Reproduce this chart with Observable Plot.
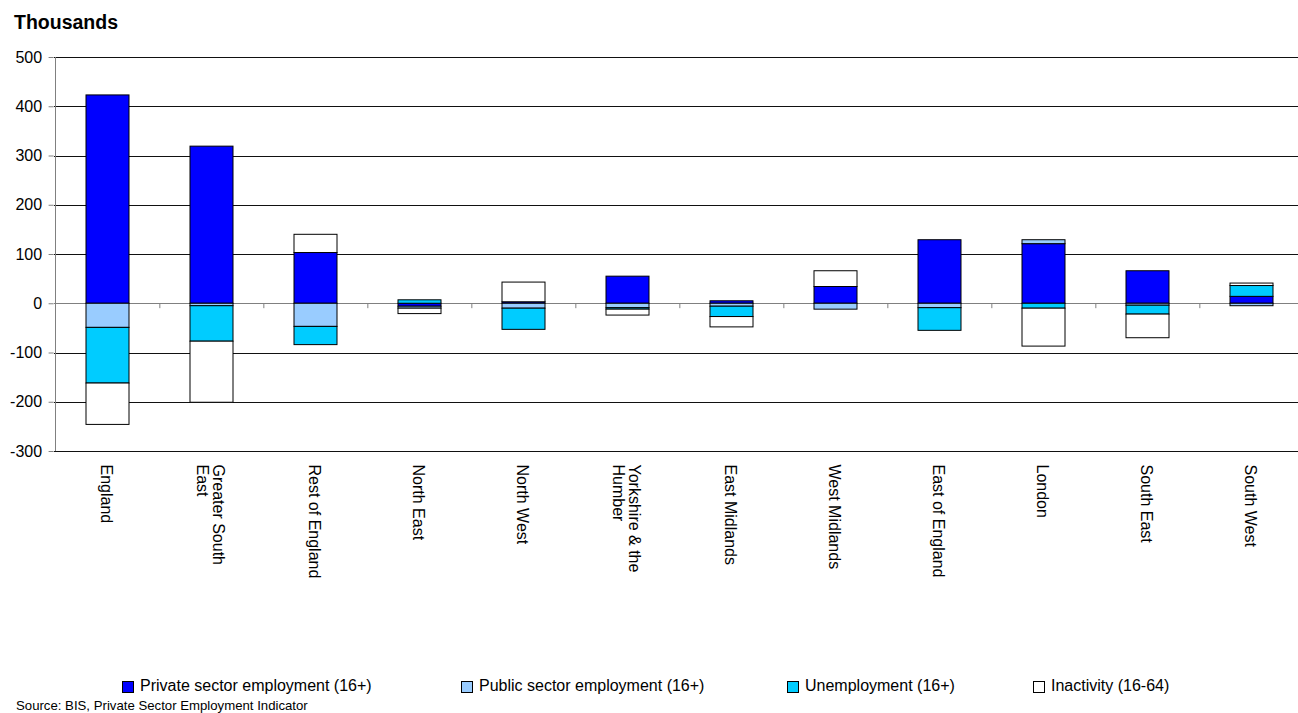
<!DOCTYPE html>
<html>
<head>
<meta charset="utf-8">
<script src="https://cdn.jsdelivr.net/npm/d3@7"></script>
<script src="https://cdn.jsdelivr.net/npm/@observablehq/plot@0.6"></script>
<style>
  html, body { margin: 0; padding: 0; background: #fff; overflow: hidden; width: 1298px; height: 713px; }
  body { position: relative; font-family: "Liberation Sans", Arial, sans-serif; color: #000; }
  #chart { position: absolute; left: 0; top: 0; width: 1310px; }
  #chart svg { max-width: none !important; }
  .title { position: absolute; left: 14px; top: 13px; font-size: 19.5px; line-height: 19px; font-weight: bold; }
  .legend-item { position: absolute; top: 678px; font-size: 16px; line-height: 16px; white-space: nowrap; }
  .swatch { position: absolute; left: 0; top: 3px; width: 10px; height: 10px; border: 1px solid #000; box-sizing: content-box; }
  .legend-item span.lbl { position: absolute; left: 18px; top: 0; }
  .source { position: absolute; left: 16px; top: 699px; font-size: 13.2px; line-height: 13px; white-space: nowrap; }
</style>
</head>
<body>
<div id="chart"></div>
<div class="title">Thousands</div>
<div id="legend"></div>
<div class="source">Source: BIS, Private Sector Employment Indicator</div>
<script>
const regions = ["England", "Greater South\nEast", "Rest of England", "North East", "North West",
  "Yorkshire & the\nHumber", "East Midlands", "West Midlands", "East of England", "London", "South East", "South West"];
const seriesNames = ["Private sector employment (16+)", "Public sector employment (16+)", "Unemployment (16+)", "Inactivity (16-64)"];
const seriesColors = ["#0000FF", "#99CCFF", "#00CCFF", "#FFFFFF"];
const privateSector = [423, 319, 103, -6, 3, 55, 5, 34, 129, 121, 66, 14];
const publicSector = [-49, -5, -47, -4, -10, -9, -6, -12, -9, 8, -4, -5];
const unemployment = [-113, -72, -37, 7, -43, -3, -21, 0, -46, -10, -18, 22];
const inactivity = [-84, -124, 37, -11, 40, -12, -21, 32, 0, -77, -48, 5];
const yTicks = [500, 400, 300, 200, 100, 0, -100, -200, -300];

const seriesValues = [privateSector, publicSector, unemployment, inactivity];
const rows = [];
regions.forEach((r, i) => {
  seriesNames.forEach((s, j) => {
    const v = seriesValues[j][i];
    if (v !== 0) rows.push({region: r, series: s, value: v});
  });
});

const W = 1310, H = 620;
const mL = 53.6, mR = 4.3, mT = 57, mB = H - 451;
const step = (W - mL - mR) / regions.length;

const chart = Plot.plot({
  width: W,
  height: H,
  marginTop: mT,
  marginBottom: mB,
  marginLeft: mL,
  marginRight: mR,
  style: {fontFamily: "'Liberation Sans', Arial, sans-serif", fontSize: "16px", color: "#000", background: "transparent", overflow: "visible", maxWidth: "none"},
  x: {domain: regions, paddingInner: 0.585, paddingOuter: 0.2925, axis: null},
  y: {domain: [-300, 500], axis: null},
  color: {domain: seriesNames, range: seriesColors},
  marks: [
    Plot.ruleY(yTicks.filter(d => d !== 0), {stroke: "#111", shapeRendering: "crispEdges"}),
    Plot.ruleY([0], {stroke: "#808080", shapeRendering: "crispEdges"}),
    Plot.ruleX(regions.slice(1), {x: d => d, y1: 0, y2: -10, dx: -step / 2, stroke: "#808080"}),
    Plot.ruleX([regions[0]], {x: d => d, y1: -300, y2: 500, dx: -step / 2, stroke: "#808080", shapeRendering: "crispEdges"}),
    Plot.barY(rows, {x: "region", y: "value", fill: "series", stroke: "#000", strokeWidth: 1}),
    Plot.axisY({ticks: yTicks, tickSize: 5, tickPadding: 7, tickFormat: d => String(d), stroke: "#808080", fill: "#000", fontSize: 16, label: null}),
    Plot.axisX({tickRotate: 90, tickSize: 0, tickPadding: 13, dx: -2, fontSize: 16, fill: "#000", label: null})
  ]
});
chart.style.maxWidth = "none";
document.getElementById("chart").appendChild(chart);

const legendX = [122, 461, 787, 1033];
const legend = document.getElementById("legend");
seriesNames.forEach((s, j) => {
  const item = document.createElement("div");
  item.className = "legend-item";
  item.style.left = legendX[j] + "px";
  const sw = document.createElement("div");
  sw.className = "swatch";
  sw.style.background = seriesColors[j];
  const lbl = document.createElement("span");
  lbl.className = "lbl";
  lbl.textContent = s;
  item.appendChild(sw);
  item.appendChild(lbl);
  legend.appendChild(item);
});
</script>
</body>
</html>
